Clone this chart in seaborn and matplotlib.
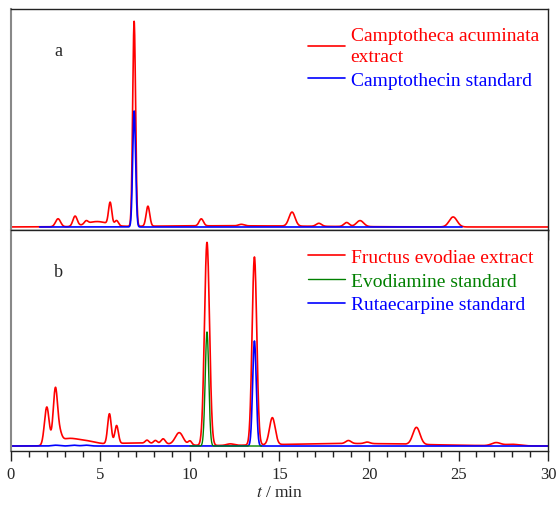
import numpy as np
import pandas as pd
import matplotlib
matplotlib.use("Agg")
import matplotlib.pyplot as plt
import seaborn as sns
from matplotlib.ticker import MultipleLocator

# retention time (min), peak height (signal units), peak sigma (min)
# panel a: Camptotheca acuminata extract
a_extract_rt = [2.63, 3.58, 4.2, 4.8, 5.54, 5.9, 6.88, 7.65, 10.63, 12.0, 12.87, 15.7, 17.2, 18.75, 19.5, 24.7]
a_extract_h = [8, 10, 3, 5, 22, 5, 205, 20, 7, 1.2, 1.5, 14, 3, 4, 6, 10]
a_extract_w = [0.14, 0.12, 0.1, 0.6, 0.09, 0.1, 0.08, 0.1, 0.12, 5.0, 0.15, 0.17, 0.15, 0.15, 0.2, 0.22]
a_extract_span = [0.0, 30.0]

# panel a: Camptothecin standard
a_std_rt = [6.88]
a_std_h = [116]
a_std_w = [0.08]
a_std_span = [1.6, 25.2]

# panel b: Fructus evodiae extract
b_extract_rt = [2.0, 2.48, 2.72, 3.2, 4.3, 7.0, 5.5, 5.9, 7.6, 8.07, 8.5, 9.4, 10.0, 10.95, 12.25, 13.6, 14.6, 19.0, 18.85, 19.9, 22.65, 27.1, 28.0]
b_extract_h = [38, 54, 8, 7, 3, 3, 30, 18, 3, 3, 5, 12, 4, 203, 1.5, 188, 27, 2.5, 3, 1.5, 17, 3, 1.5]
b_extract_w = [0.13, 0.12, 0.12, 0.6, 0.5, 1.8, 0.1, 0.1, 0.1, 0.1, 0.12, 0.22, 0.1, 0.14, 0.2, 0.13, 0.16, 4.0, 0.15, 0.15, 0.2, 0.25, 0.4]
b_extract_span = [0.0, 30.0]

# panel b: Evodiamine standard
b_evo_rt = [10.95]
b_evo_h = [114]
b_evo_w = [0.1]
b_evo_span = [10.0, 14.0]

# panel b: Rutaecarpine standard
b_rut_rt = [2.5, 3.5, 4.2, 13.6]
b_rut_h = [0.8, 0.8, 0.8, 105]
b_rut_w = [0.2, 0.2, 0.2, 0.1]
b_rut_span = [0.0, 30.0]


def trace(rt, h, w, span):
    t = np.linspace(span[0], span[1], int((span[1] - span[0]) * 100) + 1)
    y = np.zeros_like(t)
    for c, a, s in zip(rt, h, w):
        y += a * np.exp(-((t - c) ** 2) / (2 * s ** 2))
    return pd.DataFrame({"t": t, "signal": y})


sns.set_style("ticks")
plt.rcParams["font.family"] = ["Liberation Serif", "DejaVu Serif"]
plt.rcParams["mathtext.fontset"] = "stix"

fig = plt.figure(figsize=(5.6, 5.06), dpi=100)
ax_a = fig.add_axes([0.0196, 0.5435, 0.959, 0.4367])
ax_b = fig.add_axes([0.0196, 0.1067, 0.959, 0.4368], sharex=ax_a)

sns.lineplot(data=trace(a_extract_rt, a_extract_h, a_extract_w, a_extract_span),
             x="t", y="signal", color="#ff0000", lw=1.2, estimator=None,
             label="Camptotheca acuminata\nextract", ax=ax_a)
sns.lineplot(data=trace(a_std_rt, a_std_h, a_std_w, a_std_span),
             x="t", y="signal", color="#0000ff", lw=1.2, estimator=None,
             label="Camptothecin standard", ax=ax_a)

sns.lineplot(data=trace(b_extract_rt, b_extract_h, b_extract_w, b_extract_span),
             x="t", y="signal", color="#ff0000", lw=1.2, estimator=None,
             label="Fructus evodiae extract", ax=ax_b)
sns.lineplot(data=trace(b_rut_rt, b_rut_h, b_rut_w, b_rut_span),
             x="t", y="signal", color="#0000ff", lw=1.2, estimator=None,
             label="Rutaecarpine standard", ax=ax_b)
sns.lineplot(data=trace(b_evo_rt, b_evo_h, b_evo_w, b_evo_span),
             x="t", y="signal", color="#008000", lw=1.0, estimator=None,
             label="Evodiamine standard", ax=ax_b)

ax_a.set_ylim(-3, 218)
ax_b.set_ylim(-5, 216)
ax_b.set_xlim(0, 30)

for ax in (ax_a, ax_b):
    ax.set_ylabel("")
    ax.set_yticks([])
    ax.xaxis.set_major_locator(MultipleLocator(5))
    ax.xaxis.set_minor_locator(MultipleLocator(1))
    ax.tick_params(axis="x", which="major", direction="out", length=7, width=1, color="#222222")
    ax.tick_params(axis="x", which="minor", direction="out", length=4, width=1, color="#222222")
    for s in ["top", "right", "bottom"]:
        ax.spines[s].set_color("#222222")
        ax.spines[s].set_linewidth(1.0)
    ax.spines["left"].set_color("#888888")
    ax.spines["left"].set_linewidth(1.5)

ax_a.tick_params(axis="x", labelbottom=False)
ax_a.set_xlabel("")
ax_b.tick_params(axis="x", labelsize=12)
ax_b.set_xlabel("$t$ / min", fontsize=12.5, labelpad=2)

ax_a.text(0.08, 0.79, "a", transform=ax_a.transAxes, fontsize=13)
ax_b.text(0.08, 0.79, "b", transform=ax_b.transAxes, fontsize=13)

# legend order in panel b: extract, evodiamine, rutaecarpine
h_b, l_b = ax_b.get_legend_handles_labels()
order = [0, 2, 1]
for ax, handles, labels in [(ax_a, *ax_a.get_legend_handles_labels()),
                            (ax_b, [h_b[i] for i in order], [l_b[i] for i in order])]:
    leg = ax.legend(handles, labels, loc="upper left", bbox_to_anchor=(0.553, 0.918),
                    frameon=False, fontsize=14, handlelength=1.9, handletextpad=0.3,
                    labelspacing=0.32, borderpad=0, borderaxespad=0)
    for txt, hd in zip(leg.get_texts(), leg.legend_handles):
        txt.set_color(hd.get_color())
        txt.set_linespacing(1.3)

plt.savefig("out.png", dpi=100)
plt.close()
print("saved")
